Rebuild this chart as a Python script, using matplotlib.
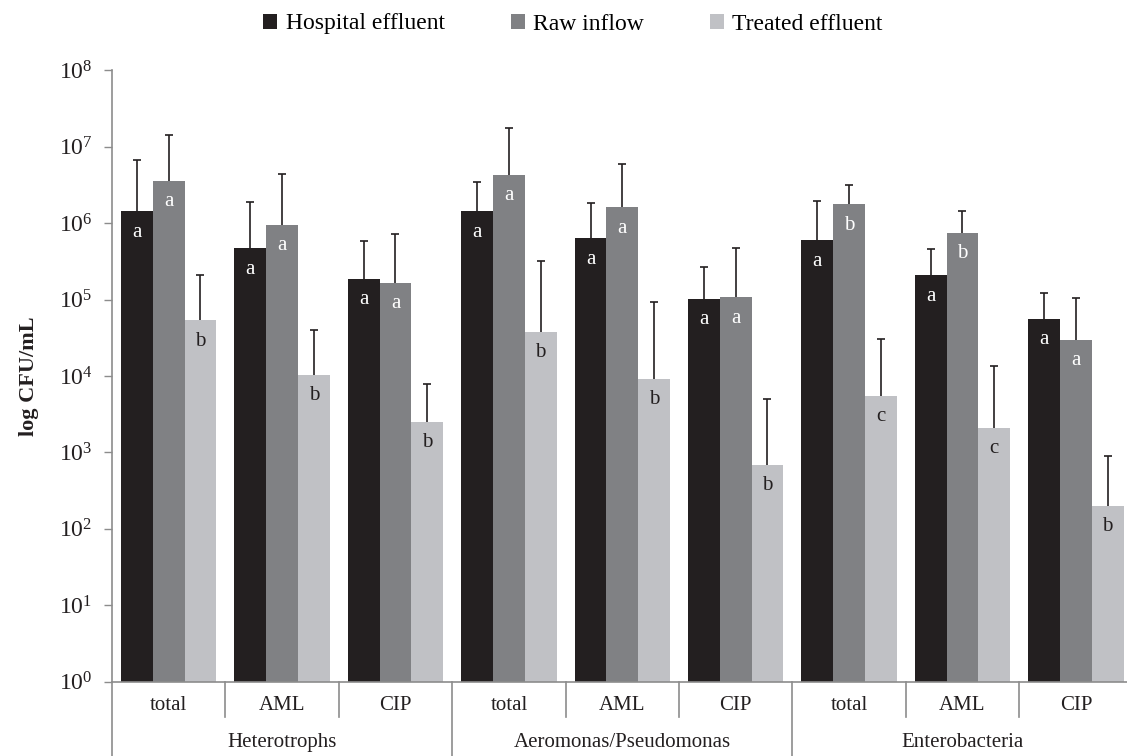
import matplotlib
matplotlib.use("Agg")
import matplotlib.pyplot as plt
import matplotlib.transforms as mtransforms
from matplotlib.patches import Patch
import numpy as np

plt.rcParams["font.family"] = ["Liberation Serif", "DejaVu Serif"]
plt.rcParams["mathtext.fontset"] = "custom"
plt.rcParams["mathtext.rm"] = "Liberation Serif"
plt.rcParams["mathtext.it"] = "Liberation Serif"

groups = ["Heterotrophs", "Aeromonas/Pseudomonas", "Enterobacteria"]
subcats = ["total", "AML", "CIP"] * 3
series = ["Hospital effluent", "Raw inflow", "Treated effluent"]
colors = ["#231f20", "#808184", "#c0c1c5"]

hospital = [1.43e6, 4.7e5, 1.87e5, 1.43e6, 6.4e5, 1.03e5, 6.0e5, 2.1e5, 5.6e4]
raw = [3.6e6, 9.5e5, 1.66e5, 4.3e6, 1.63e6, 1.08e5, 1.77e6, 7.5e5, 2.97e4]
treated = [5.4e4, 1.04e4, 2.53e3, 3.8e4, 9.2e3, 6.9e2, 5.5e3, 2.1e3, 2.0e2]

hospital_sd = [5.37e6, 1.45e6, 3.93e5, 2.07e6, 1.18e6, 1.62e5, 1.38e6, 2.55e5, 6.6e4]
raw_sd = [1.07e7, 3.45e6, 5.64e5, 1.34e7, 4.27e6, 3.67e5, 1.4e6, 7.1e5, 7.4e4]
treated_sd = [1.54e5, 2.92e4, 5.37e3, 2.86e5, 8.38e4, 4.26e3, 2.51e4, 1.16e4, 7.1e2]

hospital_letters = ["a", "a", "a", "a", "a", "a", "a", "a", "a"]
raw_letters = ["a", "a", "a", "a", "a", "a", "b", "b", "a"]
treated_letters = ["b", "b", "b", "b", "b", "b", "c", "c", "b"]

W, H = 1127, 756
fig = plt.figure(figsize=(W / 100, H / 100), dpi=100)
left_px, right_px, top_px, bot_px = 112, 1132.6, 70.5, 681.5
ax = fig.add_axes([left_px / W, (H - bot_px) / H,
                   (right_px - left_px) / W, (bot_px - top_px) / H])

values = [hospital, raw, treated]
sds = [hospital_sd, raw_sd, treated_sd]
letters = [hospital_letters, raw_letters, treated_letters]
text_colors = ["white", "white", "#231f20"]

n = len(subcats)
x = np.arange(n) + 0.5
bw = 0.28
for j in range(3):
    xs = x + (j - 1) * bw
    ax.bar(xs, values[j], width=bw, color=colors[j], edgecolor="none",
           label=series[j], zorder=2)
    # upper-only error bars: hide the cap that sits on the bar top
    _, caps, _ = ax.errorbar(xs, values[j], yerr=[np.zeros(n), sds[j]],
                             fmt="none", ecolor="#231f20", elinewidth=1.2,
                             capsize=3, capthick=1.2, zorder=3)
    for cap in caps:
        if np.allclose(cap.get_ydata(), values[j]):
            cap.set_visible(False)
    for xi, v, lt in zip(xs, values[j], letters[j]):
        ax.annotate(lt, (xi, v), xytext=(0, -21), textcoords="offset pixels",
                    ha="center", va="center", fontsize=15,
                    color=text_colors[j], zorder=4)

ax.set_yscale("log")
ax.set_ylim(1, 1e8)
ax.set_xlim(0, n)
ax.set_yticks([10.0 ** k for k in range(9)])
ax.set_yticklabels([f"$10^{{{k}}}$" for k in range(9)])
ax.yaxis.set_minor_locator(matplotlib.ticker.NullLocator())
ax.tick_params(axis="y", which="major", length=6, width=1, color="#8c8c8c",
               labelsize=17, pad=8, labelcolor="#231f20")
ax.tick_params(axis="x", bottom=False, labelbottom=False)
for s in ["top", "right"]:
    ax.spines[s].set_visible(False)
for s in ["left", "bottom"]:
    ax.spines[s].set_color("#8c8c8c")
    ax.spines[s].set_linewidth(1.2)

ax.set_ylabel("log CFU/mL", fontsize=16, fontweight="bold", labelpad=14,
              color="#231f20")

# two-level category axis
trans = mtransforms.blended_transform_factory(ax.transData, ax.transAxes)
for i in range(n + 1):
    long_line = (i % 3 == 0)
    y0 = -0.125 if long_line else -0.058
    ax.plot([i, i], [0, y0], transform=trans, color="#8c8c8c", lw=1.2,
            clip_on=False, zorder=1)
for i, lab in enumerate(subcats):
    ax.text(i + 0.5, -0.0385, lab, transform=trans, ha="center", va="center",
            fontsize=15, color="#231f20")
for g, lab in enumerate(groups):
    ax.text(g * 3 + 1.5, -0.1, lab, transform=trans, ha="center", va="center",
            fontsize=15, color="#231f20")

handles = [Patch(facecolor=c, edgecolor="none") for c in colors]
fig.legend(handles, series, loc="center", bbox_to_anchor=(573 / W, 1 - 24 / H),
           ncol=3, frameon=False, fontsize=17, handlelength=0.6,
           handleheight=0.6, handletextpad=0.35, columnspacing=2.8,
           borderpad=0.2)

fig.savefig("out.png", dpi=100)
